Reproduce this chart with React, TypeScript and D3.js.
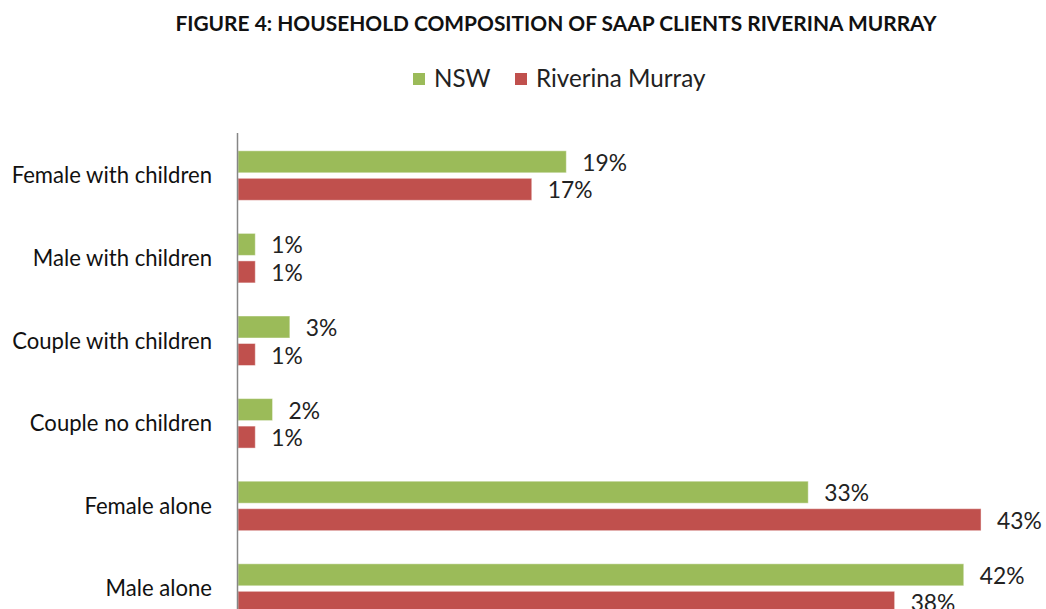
import React from "react";
import * as d3 from "d3";

const categories = [
  "Female with children",
  "Male with children",
  "Couple with children",
  "Couple no children",
  "Female alone",
  "Male alone",
];
const nswValues = [19, 1, 3, 2, 33, 42];
const riverinaValues = [17, 1, 1, 1, 43, 38];
const seriesNames = ["NSW", "Riverina Murray"];
const seriesColors = ["#9BBB59", "#C0504D"];
const title = "FIGURE 4:  HOUSEHOLD COMPOSITION OF SAAP CLIENTS RIVERINA MURRAY";

const W = 1046;
const H = 609;
const FONT = "Lato, 'Open Sans', sans-serif";

export default function App() {
  const x = d3.scaleLinear().domain([0, 45]).range([238, 238 + 45 * 17.28]);
  const y = d3.scaleBand<string>().domain(categories).range([134.5, 134.5 + 6 * 82.6]).padding(0);
  const barH = 22;
  const series = [nswValues, riverinaValues];
  const offsets = [-25, 2.5];

  return (
    <svg
      width={W}
      height={H}
      style={{ position: "absolute", left: 0, top: 0, background: "#fff" }}
      fontFamily={FONT}
    >
      <rect x={0} y={0} width={W} height={H} fill="#fff" />
      <text x={556} y={31} textAnchor="middle" fontWeight="bold" fontSize={20.9} fill="#111">
        {title}
      </text>
      {/* legend */}
      {seriesNames.map((name, i) => {
        const lx = i === 0 ? 413 : 515;
        return (
          <g key={name}>
            <rect x={lx} y={73} width={12} height={12} fill={seriesColors[i]} />
            <text x={lx + 21} y={87} fontSize={24.2} fill="#222">
              {name}
            </text>
          </g>
        );
      })}
      {/* bars */}
      {categories.map((c) => {
        const center = (y(c) as number) + y.bandwidth() / 2;
        return (
          <g key={c}>
            <text x={212} y={center + 7.5} textAnchor="end" fontSize={22.1} fill="#111">
              {c}
            </text>
            {series.map((vals, si) => {
              const v = vals[categories.indexOf(c)];
              const by = center + offsets[si];
              return (
                <g key={si}>
                  <rect
                    x={x(0)}
                    y={by}
                    width={x(v) - x(0)}
                    height={barH}
                    fill={seriesColors[si]}
                    stroke="#ffffff"
                    strokeOpacity={0.45}
                    strokeWidth={1}
                  />
                  <text x={x(v) + 16} y={by + barH / 2 + 9} fontSize={22.8} fill="#222">
                    {v}%
                  </text>
                </g>
              );
            })}
          </g>
        );
      })}
      {/* axis */}
      <line x1={237.5} x2={237.5} y1={133} y2={H} stroke="#868686" strokeWidth={1.5} />
    </svg>
  );
}
